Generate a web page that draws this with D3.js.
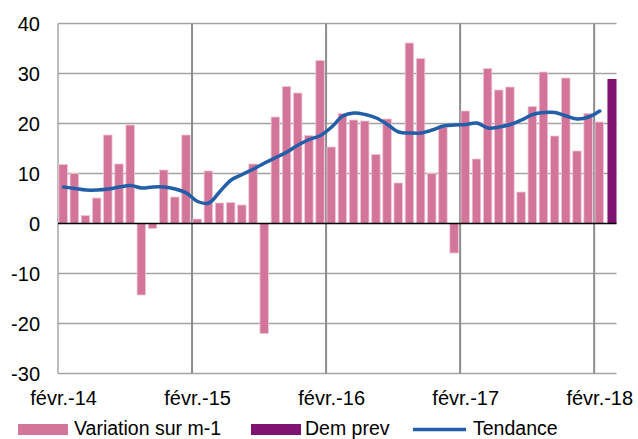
<!DOCTYPE html>
<html>
<head>
<meta charset="utf-8">
<script src="https://cdn.jsdelivr.net/npm/d3@7"></script>
<style>
  html, body { margin: 0; padding: 0; background: #fff; }
  svg { display: block; }
  text { font-family: "Liberation Sans", Arial, sans-serif; fill: #000; }
</style>
</head>
<body>
<svg id="chart" width="638" height="439"></svg>
<script>
const months = [
  "févr.-14","mars-14","avr.-14","mai-14","juin-14","juil.-14","août-14","sept.-14","oct.-14","nov.-14","déc.-14","janv.-15",
  "févr.-15","mars-15","avr.-15","mai-15","juin-15","juil.-15","août-15","sept.-15","oct.-15","nov.-15","déc.-15","janv.-16",
  "févr.-16","mars-16","avr.-16","mai-16","juin-16","juil.-16","août-16","sept.-16","oct.-16","nov.-16","déc.-16","janv.-17",
  "févr.-17","mars-17","avr.-17","mai-17","juin-17","juil.-17","août-17","sept.-17","oct.-17","nov.-17","déc.-17","janv.-18",
  "févr.-18","mars-18"
];
const variation = [
  11.8, 10.0, 1.6, 5.1, 17.7, 11.9, 19.7, -14.3, -1.0, 10.7, 5.3, 17.7,
  0.9, 10.5, 4.1, 4.2, 3.7, 11.9, -22.0, 21.3, 27.4, 26.1, 17.6, 32.6,
  15.3, 22.0, 20.7, 20.5, 13.8, 20.9, 8.1, 36.1, 33.0, 10.0, 19.3, -5.9,
  22.5, 12.9, 31.0, 26.7, 27.3, 6.3, 23.4, 30.3, 17.5, 29.1, 14.5, 22.0,
  20.3, null
];
const demPrev = [
  null, null, null, null, null, null, null, null, null, null, null, null,
  null, null, null, null, null, null, null, null, null, null, null, null,
  null, null, null, null, null, null, null, null, null, null, null, null,
  null, null, null, null, null, null, null, null, null, null, null, null,
  null, 28.9
];
const tendance = [
  7.3, 7.0, 6.7, 6.7, 6.9, 7.3, 7.6, 7.1, 7.3, 7.3, 6.9, 6.1,
  4.4, 4.1, 6.4, 8.7, 9.8, 10.9, 12.1, 13.2, 14.3, 15.7, 16.8, 17.6,
  19.3, 21.5, 22.1, 21.8, 21.1, 19.8, 18.3, 18.1, 18.1, 18.7, 19.5, 19.7,
  19.8, 20.1, 19.1, 19.3, 19.8, 20.7, 21.8, 22.2, 22.2, 21.5, 20.9, 21.3,
  22.5, null
];
const yTicks = [-30, -20, -10, 0, 10, 20, 30, 40];
const xTickLabels = ["févr.-14", "févr.-15", "févr.-16", "févr.-17", "févr.-18"];
const yearGridLabels = ["févr.-15", "févr.-16", "févr.-17", "févr.-18"];
const seriesNames = ["Variation sur m-1", "Dem prev", "Tendance"];

const colors = { variation: "#D37499", dem: "#7E1372", trend: "#235FA8" };

const svg = d3.select("#chart");
const pLeft = 58, pRight = 616.5, pTop = 23.5, pBottom = 373.5;

const x = d3.scaleBand().domain(months).range([pLeft, pRight]).paddingInner(0).paddingOuter(0);
const y = d3.scaleLinear().domain([-30, 40]).range([pBottom, pTop]);
const bw = x.bandwidth();

// horizontal gridlines
svg.append("g").selectAll("line").data(yTicks.filter(d => d !== 0)).join("line")
  .attr("x1", pLeft).attr("x2", pRight)
  .attr("y1", d => y(d)).attr("y2", d => y(d))
  .attr("stroke", "#a3a3a3").attr("stroke-width", 1.4);

// left axis line
svg.append("line").attr("x1", pLeft).attr("x2", pLeft).attr("y1", pTop).attr("y2", pBottom)
  .attr("stroke", "#a3a3a3").attr("stroke-width", 1.4);

// vertical year gridlines
svg.append("g").selectAll("line").data(yearGridLabels).join("line")
  .attr("x1", d => x(d)).attr("x2", d => x(d))
  .attr("y1", pTop).attr("y2", pBottom)
  .attr("stroke", "#8c8c8c").attr("stroke-width", 2);

// bars: variation
svg.append("g").selectAll("rect").data(months.map((m, i) => ({ m, v: variation[i] })).filter(d => d.v != null)).join("rect")
  .attr("x", d => x(d.m) + bw * 0.08)
  .attr("width", bw * 0.76)
  .attr("y", d => Math.min(y(d.v), y(0)))
  .attr("height", d => Math.abs(y(d.v) - y(0)))
  .attr("fill", colors.variation)
  .attr("stroke", "#efc6d6").attr("stroke-width", 0.8);

// bars: dem prev
svg.append("g").selectAll("rect").data(months.map((m, i) => ({ m, v: demPrev[i] })).filter(d => d.v != null)).join("rect")
  .attr("x", d => x(d.m) + bw * 0.19)
  .attr("width", bw * 0.81)
  .attr("y", d => Math.min(y(d.v), y(0)))
  .attr("height", d => Math.abs(y(d.v) - y(0)))
  .attr("fill", colors.dem);

// zero line
svg.append("line").attr("x1", pLeft).attr("x2", pRight).attr("y1", y(0)).attr("y2", y(0))
  .attr("stroke", "#000").attr("stroke-width", 1.4);

// trend line
const line = d3.line()
  .defined(d => d.v != null)
  .x(d => x(d.m) + bw / 2)
  .y(d => y(d.v))
  .curve(d3.curveCatmullRom.alpha(0.5));
svg.append("path")
  .datum(months.map((m, i) => ({ m, v: tendance[i] })))
  .attr("d", line)
  .attr("fill", "none").attr("stroke", colors.trend)
  .attr("stroke-width", 3.5).attr("stroke-linecap", "round").attr("stroke-linejoin", "round");

// y axis labels
svg.append("g").selectAll("text").data(yTicks).join("text")
  .attr("x", 40).attr("y", d => y(d)).attr("dy", "0.36em")
  .attr("text-anchor", "end").attr("font-size", 20)
  .text(d => d);

// x axis labels
svg.append("g").selectAll("text").data(xTickLabels).join("text")
  .attr("x", d => x(d) + bw / 2).attr("y", 405)
  .attr("text-anchor", "middle").attr("font-size", 20)
  .text(d => d);

// legend
const lgY = 434.5;
const lg = svg.append("g");
lg.append("rect").attr("x", 18).attr("y", lgY - 10.5).attr("width", 50).attr("height", 11).attr("fill", colors.variation);
lg.append("text").attr("x", 74).attr("y", lgY).attr("font-size", 19.5).text(seriesNames[0]);
lg.append("rect").attr("x", 251).attr("y", lgY - 10.5).attr("width", 50).attr("height", 11).attr("fill", colors.dem);
lg.append("text").attr("x", 305).attr("y", lgY).attr("font-size", 19.5).text(seriesNames[1]);
lg.append("line").attr("x1", 413).attr("x2", 466).attr("y1", lgY - 5).attr("y2", lgY - 5)
  .attr("stroke", colors.trend).attr("stroke-width", 3.5);
lg.append("text").attr("x", 473).attr("y", lgY).attr("font-size", 19.5).text(seriesNames[2]);
</script>
</body>
</html>
